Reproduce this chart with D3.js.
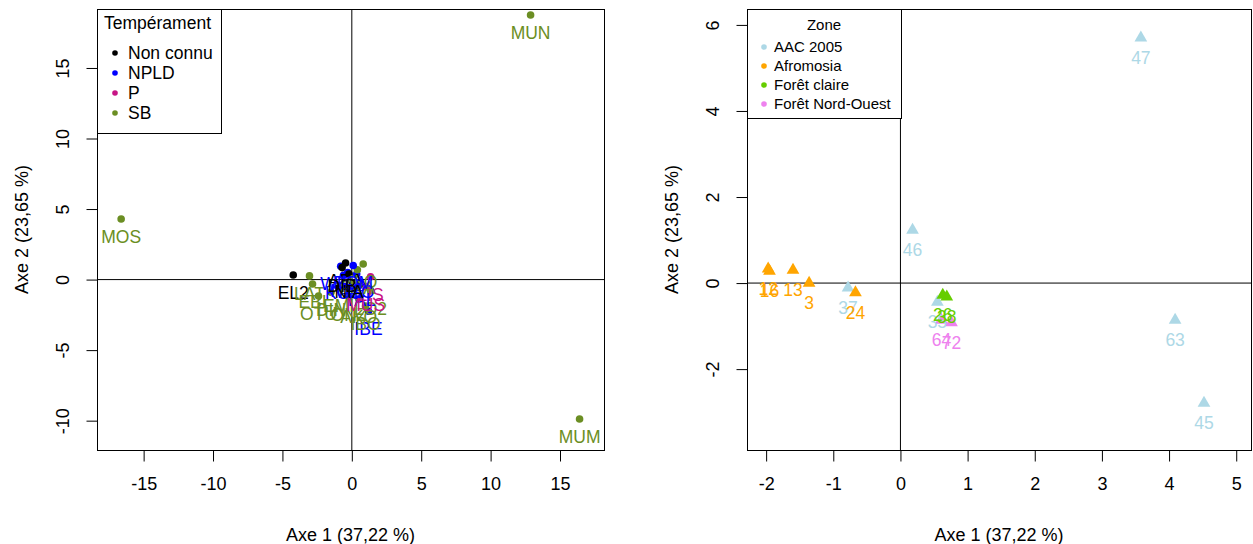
<!DOCTYPE html>
<html>
<head>
<meta charset="utf-8">
<script src="https://cdn.jsdelivr.net/npm/d3@7"></script>
<style>
  body { margin: 0; background: #fff; }
  svg { display: block; font-family: "Liberation Sans", Arial, sans-serif; }
</style>
</head>
<body>
<svg id="chart" width="1253" height="544"></svg>
<script>
// ---- left panel : species, coloured by temperament ----
const speciesCodes = ['MUN', 'MOS', 'MUM', 'EL2', 'LAT', 'EBI', 'OTU', 'WEN', 'ABA', 'ILO',
  'LIS', 'NZE', 'AZO', 'IBE', 'IBO', 'LO2', 'DIN', 'EMI', 'FRA', 'ONZ',
  'AKO', 'TAL', 'KOS', 'BOM', 'MUS', 'DIB', 'NIA'];
const speciesAxe1 = [12.88, -16.62, 16.41, -4.22, -3.05, -2.83, -2.40, -0.80, -0.45, 0.82,
  1.35, -0.30, 0.35, 1.20, 0.99, 1.35, -1.50, -0.95, 0.40, -0.20,
  0.50, 0.60, -0.60, 0.10, 1.00, -0.70, -0.20];
const speciesAxe2 = [18.75, 4.29, -9.88, 0.33, 0.26, -0.31, -1.17, 0.95, 1.18, 1.10,
  0.20, 0.50, 0.40, -2.24, -1.88, -0.80, -0.90, -0.60, 0.70, -1.20,
  -1.40, -0.20, 0.30, 1.00, -0.50, 0.85, 0.40];
const speciesTemp = ['SB', 'SB', 'SB', 'Non connu', 'SB', 'SB', 'SB', 'NPLD', 'Non connu', 'SB',
  'P', 'NPLD', 'NPLD', 'NPLD', 'SB', 'SB', 'SB', 'SB', 'SB', 'SB',
  'SB', 'NPLD', 'NPLD', 'NPLD', 'P', 'Non connu', 'Non connu'];
const temperaments = ['Non connu', 'NPLD', 'P', 'SB'];
const temperamentColors = ['#000000', '#0000FF', '#C71585', '#6B8E23'];
const leftTicksX = [-15, -10, -5, 0, 5, 10, 15];
const leftTicksY = [-10, -5, 0, 5, 10, 15];

// ---- right panel : plots, coloured by zone ----
const plotIds = ['47', '46', '63', '45', '37', '35', '12', '16', '13', '3',
  '24', '26', '38', '64', '72'];
const plotAxe1 = [3.58, 0.18, 4.09, 4.52, -0.78, 0.55, -1.97, -1.95, -1.60, -1.36,
  -0.67, 0.63, 0.69, 0.61, 0.76];
const plotAxe2 = [5.70, 1.23, -0.86, -2.79, -0.11, -0.44, 0.33, 0.28, 0.30, 0.00,
  -0.22, -0.28, -0.32, -0.86, -0.92];
const plotZone = ['AAC 2005', 'AAC 2005', 'AAC 2005', 'AAC 2005', 'AAC 2005', 'AAC 2005',
  'Afromosia', 'Afromosia', 'Afromosia', 'Afromosia', 'Afromosia',
  'Forêt claire', 'Forêt claire', 'Forêt Nord-Ouest', 'Forêt Nord-Ouest'];
const zones = ['AAC 2005', 'Afromosia', 'Forêt claire', 'Forêt Nord-Ouest'];
const zoneColors = ['#ADD8E6', '#FFA500', '#66CD00', '#EE82EE'];
const rightTicksX = [-2, -1, 0, 1, 2, 3, 4, 5];
const rightTicksY = [-2, 0, 2, 4, 6];

const axisTitleX = 'Axe 1 (37,22 %)';
const axisTitleY = 'Axe 2 (23,65 %)';

const svg = d3.select('#chart');
svg.append('rect').attr('width', 1253).attr('height', 544).attr('fill', '#fff');

function drawPanel(opt) {
  const x = d3.scaleLinear().domain(opt.xDomain).range([opt.left, opt.right]);
  const y = d3.scaleLinear().domain(opt.yDomain).range([opt.bottom, opt.top]);
  const color = d3.scaleOrdinal().domain(opt.groups).range(opt.colors);
  const g = svg.append('g');

  const rows = opt.labels.map((lab, i) => ({lab, x: opt.xs[i], y: opt.ys[i], grp: opt.grp[i]}));

  // lignes de référence en 0
  g.append('line')
    .attr('x1', x(0)).attr('x2', x(0))
    .attr('y1', opt.top).attr('y2', opt.bottom)
    .attr('stroke', '#000');
  g.append('line')
    .attr('x1', opt.left).attr('x2', opt.right)
    .attr('y1', y(0)).attr('y2', y(0))
    .attr('stroke', '#000');

  // points
  if (opt.triangles) {
    g.selectAll('path.pt').data(rows).enter()
      .append('path')
      .attr('class', 'pt')
      .attr('d', d3.symbol(d3.symbolTriangle, 70))
      .attr('transform', d => `translate(${x(d.x)},${y(d.y)})`)
      .attr('fill', d => color(d.grp));
  } else {
    g.selectAll('circle.pt').data(rows).enter()
      .append('circle')
      .attr('class', 'pt')
      .attr('cx', d => x(d.x))
      .attr('cy', d => y(d.y))
      .attr('r', 3.8)
      .attr('fill', d => color(d.grp));
  }

  // étiquettes sous les points
  g.selectAll('text.lab').data(rows).enter()
    .append('text')
    .attr('class', 'lab')
    .attr('x', d => x(d.x))
    .attr('y', d => y(d.y) + opt.labelDy)
    .attr('text-anchor', 'middle')
    .attr('font-size', 17.5)
    .attr('fill', d => color(d.grp))
    .text(d => d.lab);

  // cadre
  g.append('rect')
    .attr('x', opt.left + 0.5).attr('y', opt.top + 0.5)
    .attr('width', opt.right - opt.left).attr('height', opt.bottom - opt.top)
    .attr('fill', 'none').attr('stroke', '#000');

  // axes
  const ax = g.append('g')
    .attr('transform', `translate(0,${opt.bottom + 0.5})`)
    .call(d3.axisBottom(x).tickValues(opt.ticksX).tickFormat(d => String(d)).tickSize(11).tickPadding(16));
  const ay = g.append('g')
    .attr('transform', `translate(${opt.left + 0.5},0)`)
    .call(d3.axisLeft(y).tickValues(opt.ticksY).tickFormat(d => String(d)).tickSize(11));
  [ax, ay].forEach(a => {
    a.attr('font-family', null).attr('font-size', 18);
    a.select('.domain').remove();
    a.selectAll('line').attr('stroke', '#000');
    a.selectAll('text').attr('fill', '#000');
  });
  ay.selectAll('text')
    .attr('x', null).attr('dy', '0.35em')
    .attr('text-anchor', 'middle')
    .attr('transform', 'translate(-35,0) rotate(-90)');

  // titres des axes
  g.append('text')
    .attr('x', (opt.left + opt.right) / 2).attr('y', 541)
    .attr('text-anchor', 'middle').attr('font-size', 18)
    .text(axisTitleX);
  g.append('text')
    .attr('transform', `translate(${opt.left - 69},${(opt.top + opt.bottom) / 2}) rotate(-90)`)
    .attr('text-anchor', 'middle').attr('font-size', 18)
    .text(axisTitleY);

  // légende
  const lg = opt.legend;
  g.append('rect')
    .attr('x', opt.left + 0.5).attr('y', opt.top + 0.5)
    .attr('width', lg.w).attr('height', lg.h)
    .attr('fill', '#fff').attr('stroke', '#000');
  g.append('text')
    .attr('x', lg.titleX).attr('y', lg.titleY)
    .attr('text-anchor', lg.titleAnchor)
    .attr('font-size', lg.fontSize)
    .text(lg.title);
  opt.groups.forEach((grp, i) => {
    const cy = lg.firstY + i * lg.step;
    g.append('circle')
      .attr('cx', lg.dotX).attr('cy', cy).attr('r', 2.8)
      .attr('fill', opt.colors[i]);
    g.append('text')
      .attr('x', lg.textX).attr('y', cy + lg.fontSize * 0.33)
      .attr('font-size', lg.fontSize)
      .text(grp);
  });
}

drawPanel({
  left: 97, right: 604, top: 9, bottom: 450,
  xDomain: [-18.36, 18.17], yDomain: [-12.08, 19.18],
  ticksX: leftTicksX, ticksY: leftTicksY,
  labels: speciesCodes, xs: speciesAxe1, ys: speciesAxe2, grp: speciesTemp,
  groups: temperaments, colors: temperamentColors,
  triangles: false, labelDy: 24,
  legend: {w: 124, h: 124, title: 'Tempérament', titleX: 104, titleY: 29, titleAnchor: 'start',
    fontSize: 17.5, dotX: 115, textX: 128, firstY: 53, step: 20}
});

drawPanel({
  left: 747, right: 1251, top: 9, bottom: 450,
  xDomain: [-2.285, 5.22], yDomain: [-3.88, 6.37],
  ticksX: rightTicksX, ticksY: rightTicksY,
  labels: plotIds, xs: plotAxe1, ys: plotAxe2, grp: plotZone,
  groups: zones, colors: zoneColors,
  triangles: true, labelDy: 26,
  legend: {w: 154, h: 109, title: 'Zone', titleX: 824, titleY: 30, titleAnchor: 'middle',
    fontSize: 15, dotX: 764, textX: 774, firstY: 47, step: 19}
});
</script>
</body>
</html>
